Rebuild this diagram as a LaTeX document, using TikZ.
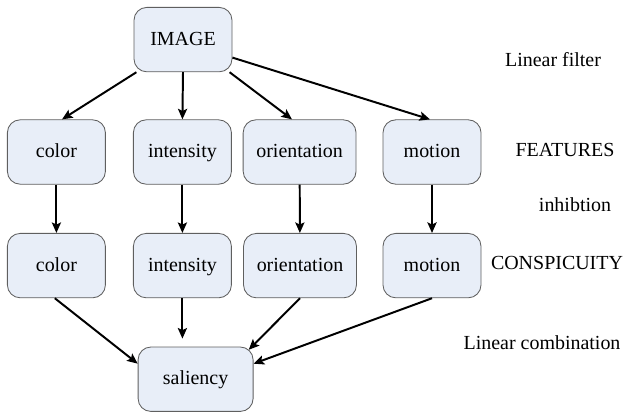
\documentclass[tikz,border=0pt]{standalone}
\usepackage{fontspec}
\setmainfont{Liberation Serif}
\usepackage{tikz}
\usetikzlibrary{arrows.meta}

\definecolor{boxfill}{RGB}{232,238,248}
\definecolor{boxline}{RGB}{95,95,95}

\begin{document}
\begin{tikzpicture}[
	box/.style={draw=boxline, fill=boxfill, line width=0.6pt, rounded corners=0.32cm,
		minimum width=2.45cm, minimum height=1.61cm, inner xsep=0.33cm,
		text height=0.78em, text depth=0em,
		font=\fontsize{14.2pt}{17pt}\selectfont},
	lbl/.style={font=\fontsize{14.2pt}{17pt}\selectfont},
	arr/.style={-{Stealth[length=7.5pt, width=6.5pt, inset=1.5pt]}, line width=1.4pt}]
					\useasboundingbox (0,0) rectangle (15.625,-10.35);

					\node[box] (I) at (4.575,-0.99) {IMAGE};
					\node[box] (C1) at (1.41,-3.8) {color};
					\node[box] (N1) at (4.56,-3.8) {intensity};
					\node[box] (O1) at (7.49,-3.8) {orientation};
					\node[box] (M1) at (10.8,-3.8) {motion};
					\node[box] (C2) at (1.41,-6.64) {color};
					\node[box] (N2) at (4.56,-6.64) {intensity};
					\node[box] (O2) at (7.5,-6.64) {orientation};
					\node[box] (M2) at (10.8,-6.64) {motion};
					\node[box, minimum width=2.875cm] (S) at (4.89,-9.48) {saliency};

					\node[lbl] (LF) at (13.825,-1.5) {Linear filter};
					\node[lbl] (F) at (14.125,-3.75) {FEATURES};
					\node[lbl] (H) at (14.375,-5.125) {inhibtion};
					\node[lbl] (CS) at (13.925,-6.575) {CONSPICUITY};
					\node[lbl] (LC) at (13.55,-8.575) {Linear combination};
					
					\draw[arr] (I.215) -- ([xshift=0.14cm]C1.north);
					\draw[arr] (I.south) -- (N1.north);
					\draw[arr] (I.325) -- ([xshift=-0.19cm]O1.north);
					\draw[arr] (I.-20) -- ([xshift=-0.05cm]M1.north);

					\draw[arr] (C1) -- (C2);
					\draw[arr] (N1) -- (N2);
					\draw[arr] (O1) -- (O2);
					\draw[arr] (M1) -- (M2);

					\draw[arr] ([xshift=-0.04cm]C2.south) -- (S.165);
					\draw[arr, shorten >=0.2cm] (N2.south) -- (N2.south |- S.north);
					\draw[arr] (O2.south) -- ([shift={(-0.12,-0.08)}]S.north east);
					\draw[arr] (M2.south) -- (S.15);
				
	\end{tikzpicture}
\end{document}
